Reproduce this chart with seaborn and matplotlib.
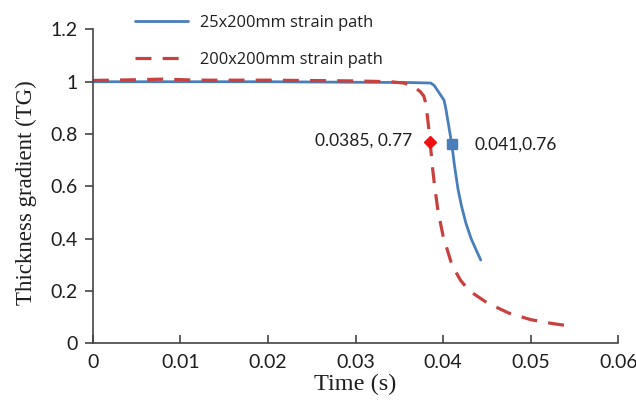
import matplotlib
matplotlib.use("Agg")
import matplotlib.pyplot as plt
import seaborn as sns
import pandas as pd

# Strain path results: thickness gradient vs. time
time_25 = [0.0, 0.01, 0.02, 0.03, 0.036, 0.0386, 0.039, 0.0394, 0.0398, 0.0401,
           0.0403, 0.0405, 0.0407, 0.041, 0.0413, 0.0417, 0.0421, 0.0426, 0.0432,
           0.0438, 0.0443]
tg_25 = [1.0, 1.0, 1.0, 0.998, 0.997, 0.995, 0.985, 0.965, 0.945, 0.93,
         0.9, 0.86, 0.82, 0.76, 0.68, 0.59, 0.525, 0.46, 0.4, 0.355, 0.318]

time_200 = [0.0, 0.004, 0.008, 0.012, 0.02, 0.03, 0.034, 0.0355, 0.0363, 0.0369,
            0.0374, 0.0378, 0.038, 0.0382, 0.0384, 0.0386, 0.0388, 0.039, 0.0394,
            0.04, 0.041, 0.042, 0.043, 0.045, 0.0475, 0.05, 0.0525, 0.055]
tg_200 = [1.005, 1.007, 1.01, 1.006, 1.006, 1.003, 1.0, 0.995, 0.987, 0.975,
          0.962, 0.945, 0.92, 0.87, 0.81, 0.74, 0.67, 0.61, 0.51,
          0.41, 0.3, 0.24, 0.2, 0.155, 0.115, 0.09, 0.075, 0.063]

series_labels = ["25x200mm strain path", "200x200mm strain path"]

# Onset points
onset_25 = (0.041, 0.76)
onset_200 = (0.0385, 0.77)
onset_labels = ["0.041,0.76", "0.0385, 0.77"]

x_ticks = [0, 0.01, 0.02, 0.03, 0.04, 0.05, 0.06]
x_tick_labels = ["0", "0.01", "0.02", "0.03", "0.04", "0.05", "0.06"]
y_ticks = [0, 0.2, 0.4, 0.6, 0.8, 1.0, 1.2]
y_tick_labels = ["0", "0.2", "0.4", "0.6", "0.8", "1", "1.2"]

sns.set_theme(style="white")
plt.rcParams["font.family"] = ["Lato", "DejaVu Sans"]

BLUE = "#4a7ebb"
RED = "#c8413e"
INK = "#1e1e1e"

df25 = pd.DataFrame({"t": time_25, "tg": tg_25})
df200 = pd.DataFrame({"t": time_200, "tg": tg_200})

fig = plt.figure(figsize=(6.36, 4.09), dpi=100)
ax = fig.add_axes([0.146, 0.161, 0.826, 0.767])

sns.lineplot(data=df25, x="t", y="tg", ax=ax, color=BLUE, lw=2.0,
             label=series_labels[0], sort=False)
sns.lineplot(data=df200, x="t", y="tg", ax=ax, color=RED, lw=2.3,
             label=series_labels[1], sort=False)
ax.lines[1].set_linestyle((0, (5, 3.5)))

ax.plot(*onset_200, marker="D", color="#ee1111", ms=6.5, ls="none")
ax.plot(*onset_25, marker="s", color=BLUE, ms=7.5, ls="none")

ax.text(onset_200[0] - 0.002, onset_200[1] + 0.005, onset_labels[1],
        ha="right", va="center", fontsize=12.5, color=INK)
ax.text(onset_25[0] + 0.0026, onset_25[1] + 0.0, onset_labels[0],
        ha="left", va="center", fontsize=12.5, color=INK)

ax.set_xlim(0, 0.06)
ax.set_ylim(0, 1.2)
ax.set_xticks(x_ticks)
ax.set_xticklabels(x_tick_labels)
ax.set_yticks(y_ticks)
ax.set_yticklabels(y_tick_labels)

for side in ("top", "right"):
    ax.spines[side].set_visible(False)
for side in ("left", "bottom"):
    ax.spines[side].set_color("#444444")
    ax.spines[side].set_linewidth(1.2)

ax.tick_params(axis="x", direction="in", length=6, width=1.2, color="#444444",
               labelsize=14, pad=8, bottom=True, labelcolor=INK)
ax.tick_params(axis="y", direction="out", length=6, width=1.2, color="#444444",
               labelsize=14, pad=5, left=True, labelcolor=INK)

ax.set_xlabel("Time (s)", family="Liberation Serif", fontsize=17.5, labelpad=2,
              color=INK)
ax.set_ylabel("Thickness gradient (TG)", family="Liberation Serif", fontsize=16.5,
              color=INK)
ax.yaxis.set_label_coords(-0.107, 0.481)

leg = ax.legend(loc="upper left", bbox_to_anchor=(0.196, 0.99),
                bbox_transform=fig.transFigure, frameon=False,
                prop={"family": "Open Sans", "size": 11.8},
                handlelength=3.2, handletextpad=0.75,
                labelspacing=1.3, borderaxespad=0.25)
for t in leg.get_texts():
    t.set_color(INK)

fig.savefig("out.png", dpi=100)
